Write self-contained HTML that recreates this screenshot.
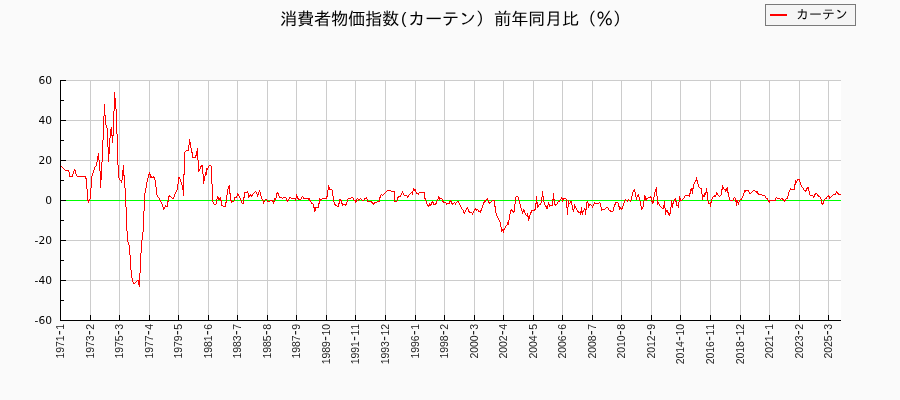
<!DOCTYPE html>
<html lang="ja"><head><meta charset="utf-8"><title>chart</title>
<style>
html,body{margin:0;padding:0;background:#fafafa;}
body{width:900px;height:400px;overflow:hidden;}
svg{display:block}
.t{font-family:"Liberation Sans","IPAGothic",sans-serif;fill:#000}
.y{font-family:"DejaVu Sans","Liberation Sans",sans-serif;font-size:10.67px;fill:#000;text-anchor:end}
.x{font-family:"Liberation Sans",sans-serif;font-size:10.5px;fill:#1c1c1c;text-anchor:start}
</style></head><body>
<svg width="900" height="400" viewBox="0 0 900 400">
<rect x="0" y="0" width="900" height="400" fill="#fafafa"/>
<rect x="60" y="80" width="781" height="241" fill="#ffffff"/>
<g shape-rendering="crispEdges" stroke="#cccccc" stroke-width="1" fill="none">
<path d="M90.5 80V320M119.5 80V320M149.5 80V320M178.5 80V320M208.5 80V320M237.5 80V320M267.5 80V320M296.5 80V320M326.5 80V320M355.5 80V320M385.5 80V320M415.5 80V320M444.5 80V320M474.5 80V320M503.5 80V320M533.5 80V320M562.5 80V320M592.5 80V320M621.5 80V320M651.5 80V320M680.5 80V320M710.5 80V320M740.5 80V320M769.5 80V320M799.5 80V320M828.5 80V320M60 80.5H841M60 120.5H841M60 160.5H841M60 240.5H841M60 280.5H841"/>
</g>
<g shape-rendering="crispEdges" fill="none">
<path d="M60 200.5H841" stroke="#00ff00" stroke-width="1"/>
<path d="M60.5 166v4M61.5 166v1M62.5 167v1M63.5 168v1M64.5 169v1M65.5 170v1M66.5 170v1M67.5 170v1M68.5 170v2M69.5 172v5M70.5 176v1M71.5 176v1M72.5 174v3M73.5 171v3M74.5 169v2M75.5 170v4M76.5 174v2M77.5 176v1M78.5 176v1M79.5 176v1M80.5 176v1M81.5 176v1M82.5 176v1M83.5 176v1M84.5 176v1M85.5 176v3M86.5 178v11M87.5 189v12M88.5 200v3M89.5 199v2M90.5 188v11M91.5 176v12M92.5 173v3M93.5 170v3M94.5 167v3M95.5 166v1M96.5 162v4M97.5 156v6M98.5 153v7M99.5 160v11M100.5 171v17M101.5 162v18M102.5 140v22M103.5 116v24M104.5 104v12M105.5 115v10M106.5 125v3M107.5 128v19M108.5 147v15M109.5 138v16M110.5 129v9M111.5 127v9M112.5 135v8M113.5 111v25M114.5 92v19M115.5 98v11M116.5 109v25M117.5 134v31M118.5 165v13M119.5 178v2M120.5 180v1M121.5 180v3M122.5 170v10M123.5 165v11M124.5 175v13M125.5 188v19M126.5 207v24M127.5 231v11M128.5 242v3M129.5 245v10M130.5 255v15M131.5 270v8M132.5 278v4M133.5 282v2M134.5 283v1M135.5 282v1M136.5 281v1M137.5 280v1M138.5 280v5M139.5 273v14M140.5 253v20M141.5 240v13M142.5 232v8M143.5 211v21M144.5 193v18M145.5 188v5M146.5 182v6M147.5 178v4M148.5 174v4M149.5 172v3M150.5 174v4M151.5 176v2M152.5 177v1M153.5 176v2M154.5 177v3M155.5 180v7M156.5 187v8M157.5 195v2M158.5 197v1M159.5 198v2M160.5 200v2M161.5 202v2M162.5 204v3M163.5 207v3M164.5 207v2M165.5 205v2M166.5 206v1M167.5 201v6M168.5 196v6M169.5 195v2M170.5 196v1M171.5 197v1M172.5 198v1M173.5 197v2M174.5 194v3M175.5 192v2M176.5 190v2M177.5 184v6M178.5 177v7M179.5 177v2M180.5 179v3M181.5 182v3M182.5 185v5M183.5 174v22M184.5 152v23M185.5 151v1M186.5 150v1M187.5 150v1M188.5 145v6M189.5 139v6M190.5 142v6M191.5 148v5M192.5 152v6M193.5 157v1M194.5 157v1M195.5 155v3M196.5 151v5M197.5 148v12M198.5 160v12M199.5 169v2M200.5 166v3M201.5 165v2M202.5 165v9M203.5 174v10M204.5 176v5M205.5 172v4M206.5 168v7M207.5 168v2M208.5 166v2M209.5 165v1M210.5 165v1M211.5 166v18M212.5 184v18M213.5 202v2M214.5 204v1M215.5 204v1M216.5 199v5M217.5 196v3M218.5 197v3M219.5 198v2M220.5 197v4M221.5 200v6M222.5 205v1M223.5 206v1M224.5 206v1M225.5 202v5M226.5 195v8M227.5 189v6M228.5 186v3M229.5 185v9M230.5 193v8M231.5 200v3M232.5 201v1M233.5 201v1M234.5 197v4M235.5 197v1M236.5 196v2M237.5 193v3M238.5 194v2M239.5 196v2M240.5 198v2M241.5 200v3M242.5 203v1M243.5 197v7M244.5 192v6M245.5 192v1M246.5 192v1M247.5 191v2M248.5 193v5M249.5 195v2M250.5 194v2M251.5 195v2M252.5 194v2M253.5 193v1M254.5 192v1M255.5 191v1M256.5 192v2M257.5 194v3M258.5 192v3M259.5 190v2M260.5 192v4M261.5 196v3M262.5 199v2M263.5 201v3M264.5 200v2M265.5 199v1M266.5 199v1M267.5 200v2M268.5 201v1M269.5 201v1M270.5 200v1M271.5 200v1M272.5 200v2M273.5 201v3M274.5 198v4M275.5 198v2M276.5 193v5M277.5 192v2M278.5 193v3M279.5 196v2M280.5 197v1M281.5 197v1M282.5 198v1M283.5 197v1M284.5 197v1M285.5 197v1M286.5 198v3M287.5 200v2M288.5 199v2M289.5 197v2M290.5 197v1M291.5 198v1M292.5 198v1M293.5 198v1M294.5 198v1M295.5 198v3M296.5 194v4M297.5 196v3M298.5 198v2M299.5 199v1M300.5 199v1M301.5 197v2M302.5 196v1M303.5 197v2M304.5 198v1M305.5 198v1M306.5 198v1M307.5 198v1M308.5 198v2M309.5 198v3M310.5 200v2M311.5 202v2M312.5 203v1M313.5 204v4M314.5 207v5M315.5 207v4M316.5 207v1M317.5 207v1M318.5 203v5M319.5 198v6M320.5 199v2M321.5 199v1M322.5 198v1M323.5 198v1M324.5 198v1M325.5 198v1M326.5 196v3M327.5 190v7M328.5 185v5M329.5 187v3M330.5 189v1M331.5 189v1M332.5 190v6M333.5 196v6M334.5 202v3M335.5 204v2M336.5 205v1M337.5 206v1M338.5 203v4M339.5 199v5M340.5 199v2M341.5 200v4M342.5 203v3M343.5 204v1M344.5 204v1M345.5 204v2M346.5 202v3M347.5 199v3M348.5 198v1M349.5 198v1M350.5 198v1M351.5 197v1M352.5 197v1M353.5 198v2M354.5 200v1M355.5 200v3M356.5 199v3M357.5 198v1M358.5 199v2M359.5 199v1M360.5 198v1M361.5 199v1M362.5 200v1M363.5 200v1M364.5 198v2M365.5 198v1M366.5 197v2M367.5 199v3M368.5 201v1M369.5 201v1M370.5 201v1M371.5 201v2M372.5 202v2M373.5 203v2M374.5 202v2M375.5 202v1M376.5 202v1M377.5 201v1M378.5 201v1M379.5 197v5M380.5 195v3M381.5 194v1M382.5 195v1M383.5 194v1M384.5 193v1M385.5 192v1M386.5 191v1M387.5 190v1M388.5 190v1M389.5 190v1M390.5 190v1M391.5 191v1M392.5 191v1M393.5 191v1M394.5 191v11M395.5 201v1M396.5 201v1M397.5 197v4M398.5 196v2M399.5 196v1M400.5 195v2M401.5 193v2M402.5 191v2M403.5 193v2M404.5 195v1M405.5 195v1M406.5 195v1M407.5 196v2M408.5 195v2M409.5 194v1M410.5 193v1M411.5 192v1M412.5 191v4M413.5 188v3M414.5 189v2M415.5 189v3M416.5 192v2M417.5 193v1M418.5 193v2M419.5 192v1M420.5 192v1M421.5 192v1M422.5 192v1M423.5 192v1M424.5 192v7M425.5 198v3M426.5 201v3M427.5 204v2M428.5 205v2M429.5 203v3M430.5 204v2M431.5 202v3M432.5 201v2M433.5 202v3M434.5 204v1M435.5 203v2M436.5 201v3M437.5 199v2M438.5 196v3M439.5 197v3M440.5 198v1M441.5 198v1M442.5 199v3M443.5 201v2M444.5 202v1M445.5 202v1M446.5 203v2M447.5 203v1M448.5 203v1M449.5 201v3M450.5 200v2M451.5 201v3M452.5 203v2M453.5 203v1M454.5 202v1M455.5 203v2M456.5 202v1M457.5 201v1M458.5 201v2M459.5 203v2M460.5 205v2M461.5 207v2M462.5 209v1M463.5 210v3M464.5 212v2M465.5 210v2M466.5 208v2M467.5 207v2M468.5 209v3M469.5 211v2M470.5 212v1M471.5 212v1M472.5 213v2M473.5 211v2M474.5 209v2M475.5 208v2M476.5 209v2M477.5 209v1M478.5 210v2M479.5 211v1M480.5 210v3M481.5 208v3M482.5 205v3M483.5 202v3M484.5 200v3M485.5 200v2M486.5 199v1M487.5 198v2M488.5 200v3M489.5 202v2M490.5 202v1M491.5 201v1M492.5 200v1M493.5 200v1M494.5 200v7M495.5 206v7M496.5 213v3M497.5 216v2M498.5 218v2M499.5 220v2M500.5 222v5M501.5 227v5M502.5 229v2M503.5 229v4M504.5 228v2M505.5 226v2M506.5 225v1M507.5 222v3M508.5 220v5M509.5 214v6M510.5 210v4M511.5 209v2M512.5 210v2M513.5 211v2M514.5 204v8M515.5 197v7M516.5 196v1M517.5 196v1M518.5 197v3M519.5 200v4M520.5 204v4M521.5 208v3M522.5 211v3M523.5 209v3M524.5 210v3M525.5 213v2M526.5 215v1M527.5 213v4M528.5 216v5M529.5 215v4M530.5 212v3M531.5 210v3M532.5 210v1M533.5 210v1M534.5 209v2M535.5 203v7M536.5 196v8M537.5 202v6M538.5 205v2M539.5 204v1M540.5 203v2M541.5 197v6M542.5 191v6M543.5 196v6M544.5 202v3M545.5 205v2M546.5 206v3M547.5 205v4M548.5 202v3M549.5 204v3M550.5 205v1M551.5 205v1M552.5 199v7M553.5 193v7M554.5 199v6M555.5 204v2M556.5 204v1M557.5 202v2M558.5 201v1M559.5 200v2M560.5 199v1M561.5 197v2M562.5 198v4M563.5 198v2M564.5 198v1M565.5 198v1M566.5 199v9M567.5 207v8M568.5 200v7M569.5 203v1M570.5 201v2M571.5 201v4M572.5 205v5M573.5 209v3M574.5 204v5M575.5 206v2M576.5 208v2M577.5 210v2M578.5 211v2M579.5 212v1M580.5 211v4M581.5 207v6M582.5 211v4M583.5 210v2M584.5 208v2M585.5 209v6M586.5 202v8M587.5 201v2M588.5 203v5M589.5 204v2M590.5 204v1M591.5 205v1M592.5 206v2M593.5 204v2M594.5 202v2M595.5 203v1M596.5 203v1M597.5 203v1M598.5 203v1M599.5 202v1M600.5 203v4M601.5 207v4M602.5 209v1M603.5 209v1M604.5 209v1M605.5 208v1M606.5 207v1M607.5 207v1M608.5 208v2M609.5 210v1M610.5 210v2M611.5 211v1M612.5 211v1M613.5 207v4M614.5 204v3M615.5 202v3M616.5 202v1M617.5 202v1M618.5 203v4M619.5 206v4M620.5 207v2M621.5 208v2M622.5 206v3M623.5 203v3M624.5 200v3M625.5 199v1M626.5 200v1M627.5 200v2M628.5 199v1M629.5 200v1M630.5 200v2M631.5 196v4M632.5 192v4M633.5 190v2M634.5 189v3M635.5 192v5M636.5 197v3M637.5 195v2M638.5 194v3M639.5 197v4M640.5 201v5M641.5 206v4M642.5 207v2M643.5 201v6M644.5 195v6M645.5 196v4M646.5 198v3M647.5 198v1M648.5 197v1M649.5 197v1M650.5 196v2M651.5 197v5M652.5 201v3M653.5 197v6M654.5 192v5M655.5 189v3M656.5 187v9M657.5 196v9M658.5 202v2M659.5 204v2M660.5 206v1M661.5 207v1M662.5 208v1M663.5 205v4M664.5 201v7M665.5 208v7M666.5 210v2M667.5 210v3M668.5 212v3M669.5 213v3M670.5 207v7M671.5 200v7M672.5 203v5M673.5 201v3M674.5 199v2M675.5 198v4M676.5 201v5M677.5 205v1M678.5 202v6M679.5 196v6M680.5 198v3M681.5 200v1M682.5 199v1M683.5 198v1M684.5 196v2M685.5 195v1M686.5 195v1M687.5 195v1M688.5 195v1M689.5 193v4M690.5 189v5M691.5 188v3M692.5 188v6M693.5 184v5M694.5 182v2M695.5 180v2M696.5 177v4M697.5 180v4M698.5 184v3M699.5 187v1M700.5 188v1M701.5 188v6M702.5 194v6M703.5 195v2M704.5 193v4M705.5 192v3M706.5 188v5M707.5 192v9M708.5 201v3M709.5 203v1M710.5 202v5M711.5 199v4M712.5 197v2M713.5 196v1M714.5 195v2M715.5 195v2M716.5 192v3M717.5 193v2M718.5 195v1M719.5 196v1M720.5 195v1M721.5 189v6M722.5 185v5M723.5 187v2M724.5 189v1M725.5 189v3M726.5 188v3M727.5 187v6M728.5 192v5M729.5 197v3M730.5 200v1M731.5 200v1M732.5 200v1M733.5 198v2M734.5 197v1M735.5 198v4M736.5 200v6M737.5 200v3M738.5 202v3M739.5 200v2M740.5 199v1M741.5 198v2M742.5 196v2M743.5 193v3M744.5 190v3M745.5 190v2M746.5 190v1M747.5 190v1M748.5 190v2M749.5 192v2M750.5 193v1M751.5 192v1M752.5 191v1M753.5 190v1M754.5 190v1M755.5 191v1M756.5 191v2M757.5 191v3M758.5 193v2M759.5 194v1M760.5 194v1M761.5 194v1M762.5 195v1M763.5 195v1M764.5 195v1M765.5 196v2M766.5 198v1M767.5 198v2M768.5 200v2M769.5 200v3M770.5 200v1M771.5 200v1M772.5 200v1M773.5 200v1M774.5 200v1M775.5 198v3M776.5 197v1M777.5 198v1M778.5 198v1M779.5 198v1M780.5 199v1M781.5 198v1M782.5 198v2M783.5 199v2M784.5 200v2M785.5 199v2M786.5 198v1M787.5 196v3M788.5 192v4M789.5 190v2M790.5 188v2M791.5 189v1M792.5 189v1M793.5 189v1M794.5 184v6M795.5 180v5M796.5 181v2M797.5 179v2M798.5 179v1M799.5 179v3M800.5 182v3M801.5 185v2M802.5 187v1M803.5 188v2M804.5 190v1M805.5 190v2M806.5 188v3M807.5 187v2M808.5 187v4M809.5 191v4M810.5 195v1M811.5 195v1M812.5 195v1M813.5 196v2M814.5 194v3M815.5 193v2M816.5 193v1M817.5 194v2M818.5 195v2M819.5 196v1M820.5 197v2M821.5 199v5M822.5 203v2M823.5 201v3M824.5 199v2M825.5 198v1M826.5 197v2M827.5 196v1M828.5 195v2M829.5 196v3M830.5 197v1M831.5 196v1M832.5 195v1M833.5 194v1M834.5 194v1M835.5 193v2M836.5 191v2M837.5 192v2M838.5 193v2M839.5 194v1M840.5 194v1" stroke="#ff0000" stroke-width="1"/>
<path d="M60.5 80V321M60 320.5H841M90.5 315V320M119.5 315V320M149.5 315V320M178.5 315V320M208.5 315V320M237.5 315V320M267.5 315V320M296.5 315V320M326.5 315V320M355.5 315V320M385.5 315V320M415.5 315V320M444.5 315V320M474.5 315V320M503.5 315V320M533.5 315V320M562.5 315V320M592.5 315V320M621.5 315V320M651.5 315V320M680.5 315V320M710.5 315V320M740.5 315V320M769.5 315V320M799.5 315V320M828.5 315V320M60 80.5H66M60 100.5H64M60 120.5H66M60 140.5H64M60 160.5H66M60 180.5H64M60 200.5H66M60 220.5H64M60 240.5H66M60 260.5H64M60 280.5H66M60 300.5H64" stroke="#000000" stroke-width="1"/>
</g>
<text class="y" x="52" y="84">60</text>
<text class="y" x="52" y="124">40</text>
<text class="y" x="52" y="164">20</text>
<text class="y" x="52" y="204">0</text>
<text class="y" x="52" y="244">-20</text>
<text class="y" x="52" y="284">-40</text>
<text class="y" x="52" y="324">-60</text>
<text class="x" transform="translate(64,324) rotate(-90)" x="-34.55 -28.80 -23.05 -17.30 -10.96 -5.79">1971<tspan font-size="14px">-</tspan>1</text>
<text class="x" transform="translate(94,324) rotate(-90)" x="-34.55 -28.80 -23.05 -17.30 -10.96 -5.79">1973<tspan font-size="14px">-</tspan>2</text>
<text class="x" transform="translate(123,324) rotate(-90)" x="-34.55 -28.80 -23.05 -17.30 -10.96 -5.79">1975<tspan font-size="14px">-</tspan>3</text>
<text class="x" transform="translate(153,324) rotate(-90)" x="-34.55 -28.80 -23.05 -17.30 -10.96 -5.79">1977<tspan font-size="14px">-</tspan>4</text>
<text class="x" transform="translate(182,324) rotate(-90)" x="-34.55 -28.80 -23.05 -17.30 -10.96 -5.79">1979<tspan font-size="14px">-</tspan>5</text>
<text class="x" transform="translate(212,324) rotate(-90)" x="-34.55 -28.80 -23.05 -17.30 -10.96 -5.79">1981<tspan font-size="14px">-</tspan>6</text>
<text class="x" transform="translate(241,324) rotate(-90)" x="-34.55 -28.80 -23.05 -17.30 -10.96 -5.79">1983<tspan font-size="14px">-</tspan>7</text>
<text class="x" transform="translate(271,324) rotate(-90)" x="-34.55 -28.80 -23.05 -17.30 -10.96 -5.79">1985<tspan font-size="14px">-</tspan>8</text>
<text class="x" transform="translate(300,324) rotate(-90)" x="-34.55 -28.80 -23.05 -17.30 -10.96 -5.79">1987<tspan font-size="14px">-</tspan>9</text>
<text class="x" transform="translate(330,324) rotate(-90)" x="-40.30 -34.55 -28.80 -23.05 -16.70 -11.54 -5.79">1989<tspan font-size="14px">-</tspan>10</text>
<text class="x" transform="translate(359,324) rotate(-90)" x="-40.30 -34.55 -28.80 -23.05 -16.70 -11.54 -5.79">1991<tspan font-size="14px">-</tspan>11</text>
<text class="x" transform="translate(389,324) rotate(-90)" x="-40.30 -34.55 -28.80 -23.05 -16.70 -11.54 -5.79">1993<tspan font-size="14px">-</tspan>12</text>
<text class="x" transform="translate(419,324) rotate(-90)" x="-34.55 -28.80 -23.05 -17.30 -10.96 -5.79">1996<tspan font-size="14px">-</tspan>1</text>
<text class="x" transform="translate(448,324) rotate(-90)" x="-34.55 -28.80 -23.05 -17.30 -10.96 -5.79">1998<tspan font-size="14px">-</tspan>2</text>
<text class="x" transform="translate(478,324) rotate(-90)" x="-34.55 -28.80 -23.05 -17.30 -10.96 -5.79">2000<tspan font-size="14px">-</tspan>3</text>
<text class="x" transform="translate(507,324) rotate(-90)" x="-34.55 -28.80 -23.05 -17.30 -10.96 -5.79">2002<tspan font-size="14px">-</tspan>4</text>
<text class="x" transform="translate(537,324) rotate(-90)" x="-34.55 -28.80 -23.05 -17.30 -10.96 -5.79">2004<tspan font-size="14px">-</tspan>5</text>
<text class="x" transform="translate(566,324) rotate(-90)" x="-34.55 -28.80 -23.05 -17.30 -10.96 -5.79">2006<tspan font-size="14px">-</tspan>6</text>
<text class="x" transform="translate(596,324) rotate(-90)" x="-34.55 -28.80 -23.05 -17.30 -10.96 -5.79">2008<tspan font-size="14px">-</tspan>7</text>
<text class="x" transform="translate(625,324) rotate(-90)" x="-34.55 -28.80 -23.05 -17.30 -10.96 -5.79">2010<tspan font-size="14px">-</tspan>8</text>
<text class="x" transform="translate(655,324) rotate(-90)" x="-34.55 -28.80 -23.05 -17.30 -10.96 -5.79">2012<tspan font-size="14px">-</tspan>9</text>
<text class="x" transform="translate(684,324) rotate(-90)" x="-40.30 -34.55 -28.80 -23.05 -16.70 -11.54 -5.79">2014<tspan font-size="14px">-</tspan>10</text>
<text class="x" transform="translate(714,324) rotate(-90)" x="-40.30 -34.55 -28.80 -23.05 -16.70 -11.54 -5.79">2016<tspan font-size="14px">-</tspan>11</text>
<text class="x" transform="translate(744,324) rotate(-90)" x="-40.30 -34.55 -28.80 -23.05 -16.70 -11.54 -5.79">2018<tspan font-size="14px">-</tspan>12</text>
<text class="x" transform="translate(773,324) rotate(-90)" x="-34.55 -28.80 -23.05 -17.30 -10.96 -5.79">2021<tspan font-size="14px">-</tspan>1</text>
<text class="x" transform="translate(803,324) rotate(-90)" x="-34.55 -28.80 -23.05 -17.30 -10.96 -5.79">2023<tspan font-size="14px">-</tspan>2</text>
<text class="x" transform="translate(832,324) rotate(-90)" x="-34.55 -28.80 -23.05 -17.30 -10.96 -5.79">2025<tspan font-size="14px">-</tspan>3</text>
<text class="t" font-size="17.33px"><tspan y="25.3" x="280 297 314 331 348 365 382">消費者物価指数</tspan><tspan y="23.9" x="401" font-size="16.3px">(</tspan><tspan y="25.3" x="408 425 442 459 476">カーテン）</tspan><tspan y="25.3" x="494 511 528 545 562 579 596 613">前年同月比（％）</tspan></text>
<rect x="765.5" y="4.5" width="90" height="21" fill="#f5f5f5" stroke="#7a7a7a" stroke-width="1" shape-rendering="crispEdges"/>
<rect x="770" y="14" width="17" height="2" fill="#ff0000" shape-rendering="crispEdges"/>
<text class="t" x="796 809 822 835" y="19.3" font-size="13px">カーテン</text>
</svg></body></html>
